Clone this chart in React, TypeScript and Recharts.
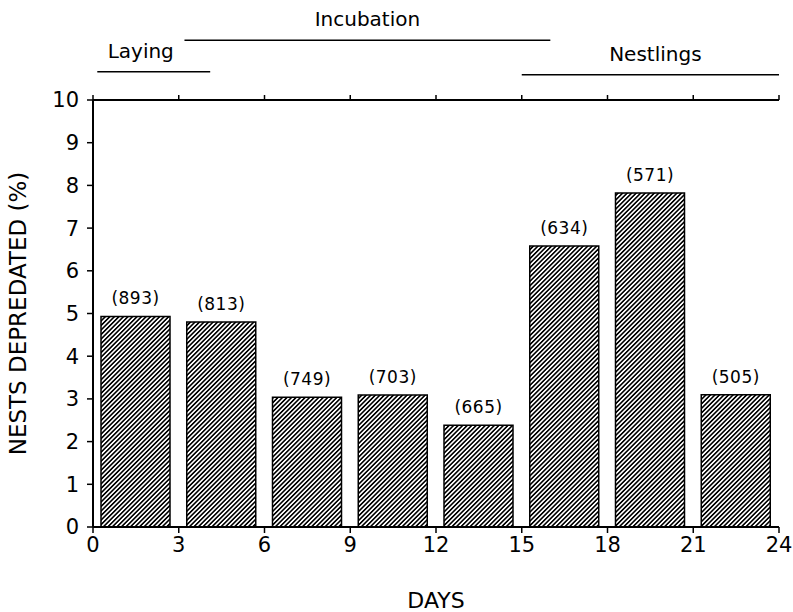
import React from 'react';
import { ComposedChart, Bar, XAxis, YAxis, LabelList, ReferenceLine } from 'recharts';

// bar centres (days), % nests depredated, and sample sizes shown above bars
const dayMid = [1.5, 4.5, 7.5, 10.5, 13.5, 16.5, 19.5, 22.5];
const depredated = [4.93, 4.8, 3.04, 3.09, 2.38, 6.58, 7.82, 3.1];
const nests = [893, 813, 749, 703, 665, 634, 571, 505];

const dayTicks = [0, 3, 6, 9, 12, 15, 18, 21, 24];
const pctTicks = [0, 1, 2, 3, 4, 5, 6, 7, 8, 9, 10];

// nesting stages drawn above the frame
const stageNames = ['Laying', 'Incubation', 'Nestlings'];
const stageStart = [0.15, 3.2, 15.0];
const stageEnd = [4.1, 16.0, 24.0];
const stageLevel = [10.66, 11.4, 10.59];
const stageLabelShift = [-13, 0, 5];

const data = dayMid.map((d, i) => ({ day: d, pct: depredated[i], n: nests[i] }));

const FONT = 'DejaVu Sans, sans-serif';

export default function App() {
  return (
    <div style={{ position: 'absolute', left: 0, top: 0, background: '#fff' }}>
      <ComposedChart
        width={793}
        height={612}
        data={data}
        margin={{ top: 95, right: 14, bottom: 0, left: 0 }}
      >
        <defs>
          <pattern id="hatch" width="3.2" height="3.2" patternUnits="userSpaceOnUse" patternTransform="rotate(45)">
            <rect width="3.2" height="3.2" fill="#fff" />
            <line x1="0.8" y1="0" x2="0.8" y2="3.2" stroke="#000" strokeWidth="1.6" />
          </pattern>
        </defs>
        <XAxis
          dataKey="day"
          type="number"
          domain={[0, 24]}
          allowDataOverflow
          ticks={dayTicks}
          interval={0}
          height={85}
          tickSize={6}
          tickMargin={4}
          axisLine={{ stroke: '#000', strokeWidth: 2 }}
          tickLine={{ stroke: '#000', strokeWidth: 1.5 }}
          tick={{ fill: '#000', fontSize: 21, fontFamily: FONT }}
          label={{ value: 'DAYS', position: 'insideBottom', offset: 4, fill: '#000', fontSize: 22, fontFamily: FONT }}
        />
        <XAxis
          xAxisId="top"
          dataKey="day"
          orientation="top"
          type="number"
          domain={[0, 24]}
          allowDataOverflow
          ticks={dayTicks}
          interval={0}
          height={5}
          tickSize={5}
          tickFormatter={() => ''}
          axisLine={{ stroke: '#000', strokeWidth: 2 }}
          tickLine={{ stroke: '#000', strokeWidth: 1.5 }}
        />
        <YAxis
          type="number"
          domain={[0, 10]}
          ticks={pctTicks}
          interval={0}
          width={93}
          tickSize={6}
          tickMargin={8}
          axisLine={{ stroke: '#000', strokeWidth: 2 }}
          tickLine={{ stroke: '#000', strokeWidth: 1.5 }}
          tick={{ fill: '#000', fontSize: 21, fontFamily: FONT }}
          label={{
            value: 'NESTS DEPREDATED (%)',
            angle: -90,
            position: 'insideLeft',
            offset: 18,
            style: { textAnchor: 'middle' },
            fill: '#000',
            fontSize: 23,
            fontFamily: FONT,
          }}
        />
        <YAxis
          yAxisId="right"
          orientation="right"
          domain={[0, 10]}
          width={0}
          tick={false}
          tickLine={false}
          axisLine={{ stroke: '#000', strokeWidth: 2 }}
        />
        <Bar dataKey="pct" barSize={69} fill="url(#hatch)" stroke="#000" strokeWidth={1.5} isAnimationActive={false}>
          <LabelList
            dataKey="n"
            position="top"
            offset={12}
            formatter={(v: number) => `(${v})`}
            fill="#000"
            fontSize={17}
            letterSpacing={0.5}
            fontFamily={FONT}
          />
        </Bar>
        {stageNames.map((name, i) => (
          <ReferenceLine
            key={name}
            segment={[
              { x: stageStart[i], y: stageLevel[i] },
              { x: stageEnd[i], y: stageLevel[i] },
            ]}
            ifOverflow="visible"
            stroke="#000"
            strokeWidth={1.5}
            label={(props: any) => {
              const vb = props.viewBox || {};
              const cx = (vb.x ?? 0) + (vb.width ?? 0) / 2 + stageLabelShift[i];
              return (
                <text x={cx} y={(vb.y ?? 0) - 14} textAnchor="middle" fill="#000" fontSize={20} fontFamily={FONT}>
                  {name}
                </text>
              );
            }}
          />
        ))}
      </ComposedChart>
    </div>
  );
}
